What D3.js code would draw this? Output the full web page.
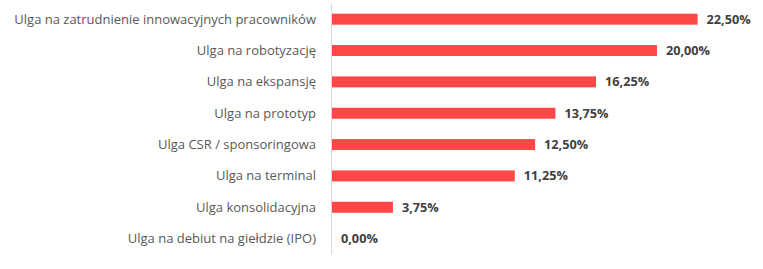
<!DOCTYPE html>
<html>
<head>
<meta charset="utf-8">
<script src="https://cdn.jsdelivr.net/npm/d3@7"></script>
<style>
  body { margin: 0; background: #fff; }
  .cat { font-family: "Open Sans", sans-serif; font-size: 13px; fill: #595959; }
  .val { font-family: "Open Sans", sans-serif; font-size: 12.7px; font-weight: bold; fill: #404040; }
</style>
</head>
<body>
<div class="chart"></div>
<script>
// categories and values (percent)
var categories = [
  "Ulga na zatrudnienie innowacyjnych pracowników",
  "Ulga na robotyzację",
  "Ulga na ekspansję",
  "Ulga na prototyp",
  "Ulga CSR / sponsoringowa",
  "Ulga na terminal",
  "Ulga konsolidacyjna",
  "Ulga na debiut na giełdzie (IPO)"
];
var values = [22.5, 20.0, 16.25, 13.75, 12.5, 11.25, 3.75, 0.0];

var svgWidth = 763;
var svgHeight = 269;

var svg = d3.select(".chart")
  .append("svg")
  .attr("width", svgWidth)
  .attr("height", svgHeight);

var data = categories.map(function (c, i) { return { cat: c, val: values[i] }; });

var xScale = d3.scaleLinear()
  .domain([0, 22.5])
  .range([332, 697.6]);

var yScale = d3.scaleBand()
  .domain(categories)
  .range([3.5, 254.3])
  .paddingInner(0.65)
  .paddingOuter(0.325);

// axis line
svg.append("line")
  .attr("x1", xScale(0) - 0.5)
  .attr("x2", xScale(0) - 0.5)
  .attr("y1", 3.5)
  .attr("y2", 254.3)
  .attr("stroke", "#d9d9d9")
  .attr("stroke-width", 1);

svg.selectAll("rect.bar")
  .data(data)
  .enter()
  .append("rect")
  .attr("class", "bar")
  .attr("x", xScale(0))
  .attr("y", d => yScale(d.cat))
  .attr("width", d => xScale(d.val) - xScale(0))
  .attr("height", yScale.bandwidth())
  .attr("fill", "#ff4747");

svg.selectAll("text.cat")
  .data(data)
  .enter()
  .append("text")
  .attr("class", "cat")
  .attr("text-anchor", "end")
  .attr("x", 316)
  .attr("y", d => yScale(d.cat) + yScale.bandwidth() / 2)
  .attr("dy", "0.35em")
  .text(d => d.cat);

var fmt = d3.format(".2f");
svg.selectAll("text.val")
  .data(data)
  .enter()
  .append("text")
  .attr("class", "val")
  .attr("x", d => xScale(d.val) + 9)
  .attr("y", d => yScale(d.cat) + yScale.bandwidth() / 2)
  .attr("dy", "0.35em")
  .text(d => fmt(d.val).replace(".", ",") + "%");
</script>
</body>
</html>
